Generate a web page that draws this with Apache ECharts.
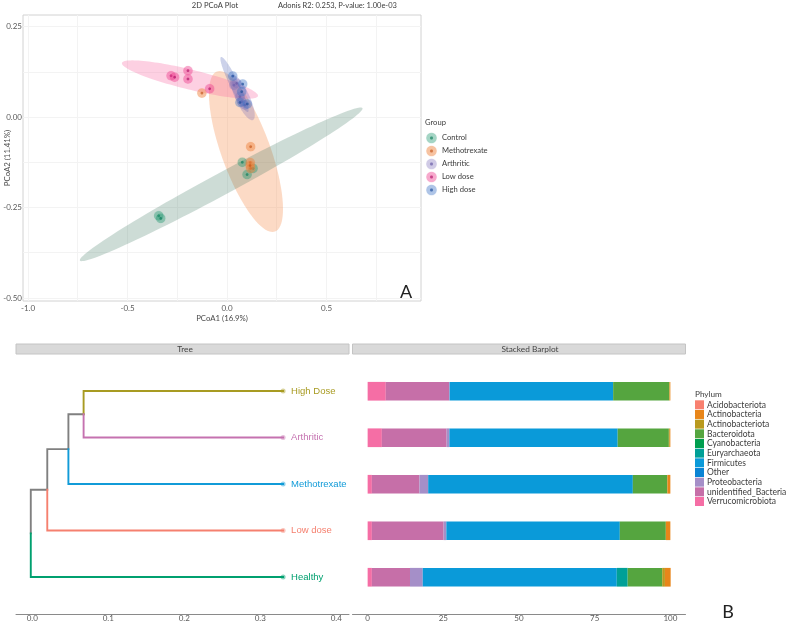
<!DOCTYPE html>
<html><head><meta charset="utf-8">
<style>html,body{margin:0;padding:0;background:#fff}#c{width:789px;height:624px}</style>
<script src="https://cdn.jsdelivr.net/npm/echarts@6/dist/echarts.min.js"></script>
</head><body><div id="c"></div>
<script>
// --- PCoA data ---
const groups = ['Control','Methotrexate','Arthritic','Low dose','High dose'];
const controlPts = [[-0.343,-0.273],[-0.333,-0.280],[0.077,-0.125],[0.131,-0.142],[0.101,-0.159]];
const methotrexatePts = [[-0.126,0.066],[0.119,-0.082],[0.117,-0.126],[0.119,-0.142],[0.116,-0.134]];
const arthriticPts = [[0.035,0.088],[0.049,0.093],[0.065,0.056],[0.074,0.042],[0.090,0.033]];
const lowDosePts = [[-0.281,0.114],[-0.263,0.110],[-0.196,0.128],[-0.196,0.105],[-0.087,0.078]];
const highDosePts = [[0.029,0.113],[0.079,0.091],[0.074,0.070],[0.102,0.036],[0.065,0.040]];
// ellipse: centre x,y, major half-vector x,y, minor half-vector x,y
const controlEllipse = [-0.029,-0.186,0.710,0.2105,0.026,-0.0268];
const methotrexateEllipse = [0.0955,-0.0953,0.1457,-0.221,0.1156,0.0232];
const lowDoseEllipse = [-0.186,0.1036,0.3417,-0.0456,-0.012,-0.0268];
const highDoseEllipse = [0.0377,0.0898,0.0678,-0.076,0.0201,0.0055];
const arthriticEllipse = [0.0779,0.0539,0.0528,-0.0622,0.0317,0.0083];
// --- tree data ---
const treeTipX = 0.33;
const highDoseBranch = [[0.0675,4.5],[0.0675,5],[0.33,5]];
const arthriticBranch = [[0.0675,4.5],[0.0675,4],[0.33,4]];
const methotrexateBranch = [[0.0475,3.75],[0.0475,3],[0.33,3]];
const lowDoseBranch = [[0.0197,2.875],[0.0197,2],[0.33,2]];
const healthyBranch = [[-0.002,1.9375],[-0.002,1],[0.33,1]];
const innerBranch = [[0.0675,4.5],[0.0475,4.5],[0.0475,3.75],[0.0197,3.75],[0.0197,2.875],[-0.002,2.875],[-0.002,1.9375]];
// --- stacked bars (bottom to top: Healthy ... High Dose) ---
const samples = ['Healthy','Low dose','Methotrexate','Arthritic','High Dose'];
const phyla = ['Acidobacteriota','Actinobacteria','Actinobacteriota','Bacteroidota','Cyanobacteria','Euryarchaeota','Firmicutes','Other','Proteobacteria','unidentified_Bacteria','Verrucomicrobiota'];
const acidobacteriota = [0,0,0,0,0];
const actinobacteria = [1.9,1.5,1.0,0.2,0.2];
const actinobacteriota = [0.9,0,0,0.3,0.2];
const bacteroidota = [11.4,15.2,11.4,16.9,18.5];
const cyanobacteria = [0,0,0,0,0];
const euryarchaeota = [3.6,0,0,0,0];
const firmicutes = [64.1,57.3,67.6,55.6,54];
const other = [0,0,0,0,0];
const proteobacteria = [4.2,0.9,2.9,0.9,0.2];
const unidentifiedBacteria = [12.6,23.7,15.7,21.4,20.9];
const verrucomicrobiota = [1.4,1.4,1.4,4.7,6.0];

const FONT = 'Lato';
const ink = '#4a4a4a';
function halo(c, dark){
  return {type:'radial',x:0.5,y:0.5,r:0.5,colorStops:[
    {offset:0,color:dark},{offset:0.18,color:dark},{offset:0.38,color:c},{offset:0.85,color:c},{offset:1,color:c.replace(/[\d.]+\)$/,'0.25)')}]};
}
function ellipseSeries(params, color, z){
  return {type:'custom',xAxisIndex:0,yAxisIndex:0,z:z,silent:true,clip:true,data:[params],
    renderItem:function(p,api){
      const v=[0,1,2,3,4,5].map(i=>api.value(i)), pts=[];
      for(let a=0;a<360;a+=3){
        const t=a*Math.PI/180,c=Math.cos(t),s=Math.sin(t);
        pts.push(api.coord([v[0]+v[2]*c+v[4]*s, v[1]+v[3]*c+v[5]*s]));
      }
      return {type:'polygon',shape:{points:pts},style:{fill:color}};
    }};
}
function pointSeries(name,data,c,dark){
  return {type:'scatter',name:name,data:data,xAxisIndex:0,yAxisIndex:0,symbolSize:10,z:5,
    itemStyle:{color:halo(c,dark)}};
}
function treeLine(data,color,label){
  const s={type:'line',data:data,xAxisIndex:1,yAxisIndex:1,showSymbol:false,symbol:'none',silent:true,z:3,
    lineStyle:{color:color,width:1.9,cap:'square',join:'miter'},animation:false};
  if(label){ s.endLabel={show:true,formatter:label,color:color,fontFamily:'Liberation Sans',fontSize:9.5,distance:8}; 
    s.z=4; }
  return s;
}
function tip(y,color){
  return {type:'scatter',data:[[treeTipX,y]],xAxisIndex:1,yAxisIndex:1,symbolSize:5,z:4,silent:true,
    itemStyle:{color:color,opacity:0.45}};
}
const phylumValues=[acidobacteriota,actinobacteria,actinobacteriota,bacteroidota,cyanobacteria,euryarchaeota,firmicutes,other,proteobacteria,unidentifiedBacteria,verrucomicrobiota];
const phylumColors=['#f8806f','#e8861a','#b99a1f','#55a53f','#009e4f','#00a097','#0a9ad9','#0a84d4','#a58fc8','#c66fa8','#f56ea5'];
const barSeries=phyla.map((n,i)=>({type:'bar',name:n,stack:'p',data:phylumValues[i],xAxisIndex:2,yAxisIndex:2,barWidth:18.7,itemStyle:{color:phylumColors[i]},z:2})).reverse();

const strip=(x,w,t,cx)=>[
  {type:'rect',shape:{x:x,y:344,width:w,height:10},style:{fill:'#d9d9d9',stroke:'#c4c4c4',lineWidth:1},silent:true},
  {type:'text',x:cx,y:349,style:{text:t,fill:'#444',font:'8.3px '+FONT,textAlign:'center',textVerticalAlign:'middle'},silent:true}];
const txt=(x,y,t,size,align,col)=>({type:'text',x:x,y:y,style:{text:t,fill:col||'#3c3c3c',font:size+'px '+FONT,textAlign:align||'left',textVerticalAlign:'middle'},silent:true});

const option={
  animation:false,backgroundColor:'#fff',
  textStyle:{fontFamily:FONT},
  grid:[
    {left:23,top:15,width:398,height:286,show:true,borderColor:'#d2d2d2',borderWidth:1,backgroundColor:'#fff',outerBoundsMode:'none'},
    {left:16,top:355,width:333,height:259,outerBoundsMode:'none'},
    {left:352.5,top:368,width:333,height:232.5,outerBoundsMode:'none'}
  ],
  xAxis:[
    {type:'value',gridIndex:0,min:-1.025,max:0.975,name:'PCoA1 (16.9%)',nameLocation:'middle',nameGap:13,nameMoveOverlap:false,
     nameTextStyle:{color:ink,fontSize:7.8,fontFamily:FONT},
     axisLine:{show:false},
     axisTick:{show:false,customValues:[-1,-0.75,-0.5,-0.25,0,0.25,0.5,0.75]},
     axisLabel:{customValues:[-1,-0.5,0,0.5],color:'#5a5a5a',fontSize:8,margin:3,formatter:v=>v.toFixed(1)},
     splitLine:{show:true,lineStyle:{color:'#f3f3f3',width:1}}},
    {type:'value',gridIndex:1,min:-0.02145,max:0.4167,
     axisLine:{show:true,onZero:false,lineStyle:{color:'#8a8a8a',width:1}},
     axisTick:{show:false,customValues:[0,0.1,0.2,0.3,0.4]},
     axisLabel:{customValues:[0,0.1,0.2,0.3,0.4],color:'#5a5a5a',fontSize:8,margin:0,formatter:v=>v.toFixed(1)},
     splitLine:{show:false}},
    {type:'value',gridIndex:2,min:-5,max:105,offset:13.5,
     axisLine:{show:true,onZero:false,lineStyle:{color:'#8a8a8a',width:1}},
     axisTick:{show:false,customValues:[0,25,50,75,100]},
     axisLabel:{customValues:[0,25,50,75,100],color:'#5a5a5a',fontSize:8,margin:0},
     splitLine:{show:false}}
  ],
  yAxis:[
    {type:'value',gridIndex:0,min:-0.5083,max:0.2818,name:'PCoA2 (11.41%)',nameLocation:'middle',nameGap:12,nameMoveOverlap:false,
     nameTextStyle:{color:ink,fontSize:7.8,fontFamily:FONT},
     axisLine:{show:false},
     axisTick:{show:false,customValues:[-0.5,-0.375,-0.25,-0.125,0,0.125,0.25]},
     axisLabel:{customValues:[-0.5,-0.25,0,0.25],color:'#5a5a5a',fontSize:8,margin:1,formatter:v=>v.toFixed(2)},
     splitLine:{show:true,lineStyle:{color:'#f3f3f3',width:1}}},
    {type:'value',gridIndex:1,min:0.204,max:5.774,show:false},
    {type:'category',gridIndex:2,data:samples,show:false}
  ],
  legend:[
    {data:groups,orient:'vertical',left:426,top:132.5,itemWidth:11,itemHeight:11,itemGap:2,icon:'circle',selectedMode:false,
     textStyle:{fontFamily:FONT,fontSize:7.6,color:'#3c3c3c',lineHeight:11},padding:0},
    {data:phyla,orient:'vertical',left:695,top:400.3,itemWidth:9,itemHeight:9,itemGap:0.67,icon:'rect',selectedMode:false,
     textStyle:{fontFamily:FONT,fontSize:8.5,color:'#3c3c3c',lineHeight:9,padding:[0,0,0,-2]},padding:0}
  ],
  graphic:[
    txt(215,6,'2D PCoA Plot',7.6,'center'),
    txt(278,6,'Adonis R2: 0.253, P-value: 1.00e-03',7.5,'left'),
    txt(425,123,'Group',7.6,'left'),
    txt(695,394,'Phylum',8.2,'left'),
    txt(406,292,'A',18,'center','#222'),
    txt(728,612,'B',18,'center','#222'),
    ...strip(16,333,'Tree',185),
    ...strip(352.5,333,'Stacked Barplot',530)
  ],
  series:[
    ellipseSeries(methotrexateEllipse,'rgba(246,150,90,0.35)',1),
    ellipseSeries(controlEllipse,'rgba(60,120,95,0.26)',2),
    ellipseSeries(lowDoseEllipse,'rgba(250,110,165,0.32)',2),
    ellipseSeries(highDoseEllipse,'rgba(95,115,190,0.32)',3),
    ellipseSeries(arthriticEllipse,'rgba(130,115,185,0.32)',3),
    pointSeries('Control',controlPts,'rgba(30,150,110,0.5)','#0f7f5c'),
    pointSeries('Methotrexate',methotrexatePts,'rgba(238,130,60,0.6)','#c9581a'),
    pointSeries('Arthritic',arthriticPts,'rgba(125,110,185,0.45)','#6a5ca8'),
    pointSeries('Low dose',lowDosePts,'rgba(236,60,140,0.55)','#b8146a'),
    pointSeries('High dose',highDosePts,'rgba(55,110,195,0.5)','#1f4f9f'),
    treeLine(innerBranch,'#808080'),
    treeLine(highDoseBranch,'#a89b22','High Dose'),
    treeLine(arthriticBranch,'#c572b0','Arthritic'),
    treeLine(methotrexateBranch,'#119bd8','Methotrexate'),
    treeLine(lowDoseBranch,'#f5806f','Low dose'),
    treeLine(healthyBranch,'#00a06f','Healthy'),
    tip(5,'#a89b22'),tip(4,'#c572b0'),tip(3,'#119bd8'),tip(2,'#f5806f'),tip(1,'#00a06f'),
    ...barSeries
  ]
};
echarts.init(document.getElementById('c'),null,{renderer:'canvas'}).setOption(option);
</script></body></html>
